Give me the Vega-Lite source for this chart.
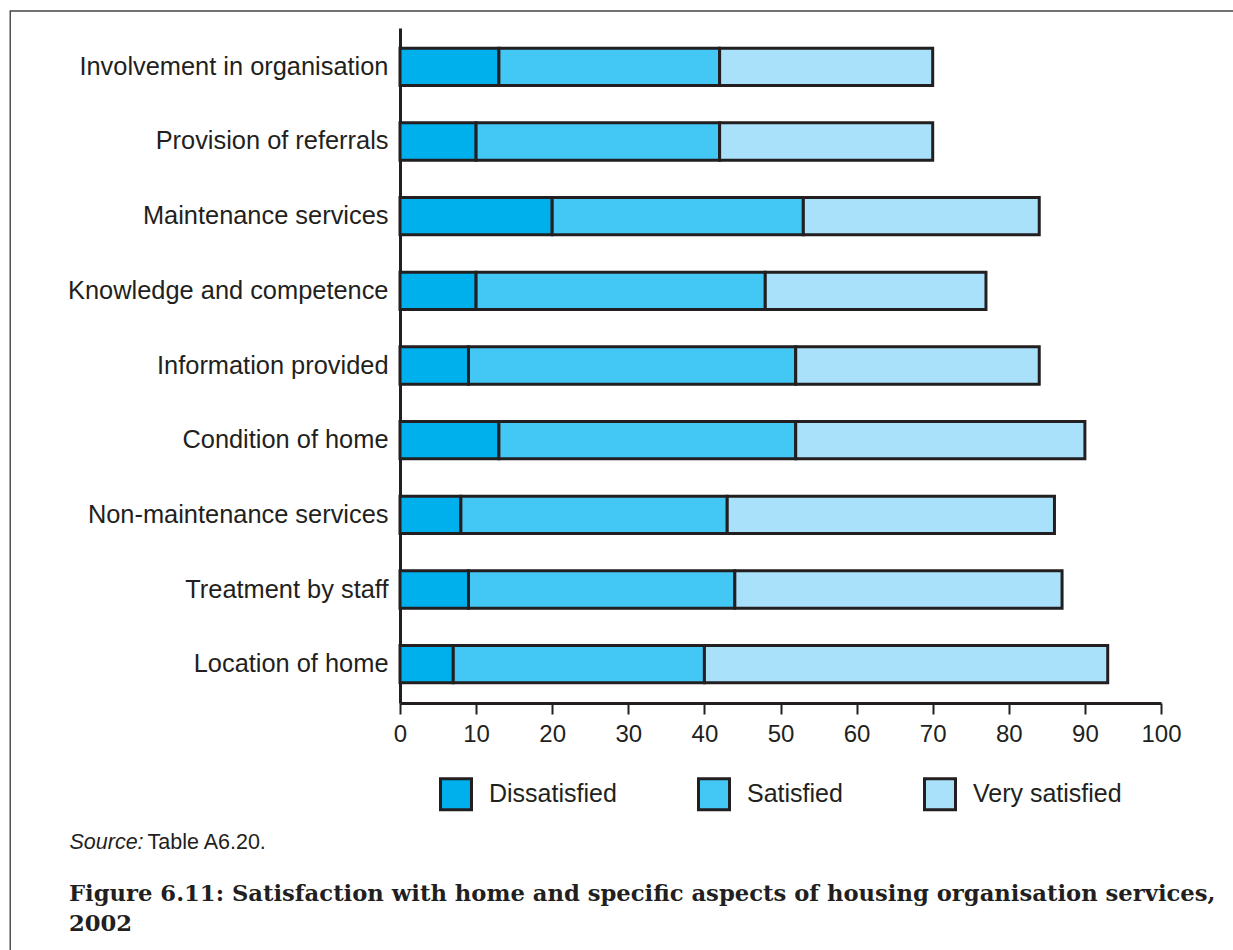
{
  "$schema": "https://vega.github.io/schema/vega-lite/v6.json",
  "width": 761,
  "height": 675,
  "autosize": {"type": "none"},
  "padding": {"left": 400, "top": 28, "right": 72, "bottom": 247},
  "background": "white",
  "config": {
    "view": {"stroke": null},
    "font": "Liberation Sans"
  },
  "title": {
    "text": ["Figure 6.11: Satisfaction with home and specific aspects of housing organisation services,", "2002"],
    "orient": "bottom",
    "anchor": "start",
    "frame": "group",
    "dx": -331,
    "offset": -70,
    "font": "DejaVu Serif",
    "fontSize": 22.7,
    "fontWeight": "bold",
    "lineHeight": 30,
    "color": "#231f20"
  },
  "data": {
    "values": [
      {"aspect": "Involvement in organisation", "level": "Dissatisfied", "rank": 1, "value": 13},
      {"aspect": "Involvement in organisation", "level": "Satisfied", "rank": 2, "value": 29},
      {"aspect": "Involvement in organisation", "level": "Very satisfied", "rank": 3, "value": 28},
      {"aspect": "Provision of referrals", "level": "Dissatisfied", "rank": 1, "value": 10},
      {"aspect": "Provision of referrals", "level": "Satisfied", "rank": 2, "value": 32},
      {"aspect": "Provision of referrals", "level": "Very satisfied", "rank": 3, "value": 28},
      {"aspect": "Maintenance services", "level": "Dissatisfied", "rank": 1, "value": 20},
      {"aspect": "Maintenance services", "level": "Satisfied", "rank": 2, "value": 33},
      {"aspect": "Maintenance services", "level": "Very satisfied", "rank": 3, "value": 31},
      {"aspect": "Knowledge and competence", "level": "Dissatisfied", "rank": 1, "value": 10},
      {"aspect": "Knowledge and competence", "level": "Satisfied", "rank": 2, "value": 38},
      {"aspect": "Knowledge and competence", "level": "Very satisfied", "rank": 3, "value": 29},
      {"aspect": "Information provided", "level": "Dissatisfied", "rank": 1, "value": 9},
      {"aspect": "Information provided", "level": "Satisfied", "rank": 2, "value": 43},
      {"aspect": "Information provided", "level": "Very satisfied", "rank": 3, "value": 32},
      {"aspect": "Condition of home", "level": "Dissatisfied", "rank": 1, "value": 13},
      {"aspect": "Condition of home", "level": "Satisfied", "rank": 2, "value": 39},
      {"aspect": "Condition of home", "level": "Very satisfied", "rank": 3, "value": 38},
      {"aspect": "Non-maintenance services", "level": "Dissatisfied", "rank": 1, "value": 8},
      {"aspect": "Non-maintenance services", "level": "Satisfied", "rank": 2, "value": 35},
      {"aspect": "Non-maintenance services", "level": "Very satisfied", "rank": 3, "value": 43},
      {"aspect": "Treatment by staff", "level": "Dissatisfied", "rank": 1, "value": 9},
      {"aspect": "Treatment by staff", "level": "Satisfied", "rank": 2, "value": 35},
      {"aspect": "Treatment by staff", "level": "Very satisfied", "rank": 3, "value": 43},
      {"aspect": "Location of home", "level": "Dissatisfied", "rank": 1, "value": 7},
      {"aspect": "Location of home", "level": "Satisfied", "rank": 2, "value": 33},
      {"aspect": "Location of home", "level": "Very satisfied", "rank": 3, "value": 53}
    ]
  },
  "layer": [
    {
      "mark": {"type": "bar", "stroke": "#231f20", "strokeWidth": 3},
      "encoding": {
        "y": {
          "field": "aspect",
          "type": "nominal",
          "sort": null,
          "scale": {"paddingInner": 0.5, "paddingOuter": 0.27},
          "axis": {
            "orient": "left",
            "title": "Source:",
            "titleAngle": 0,
            "titleX": -331,
            "titleY": 820,
            "titleAlign": "left",
            "titleBaseline": "alphabetic",
            "titleFontStyle": "italic",
            "titleFontWeight": "normal",
            "titleFontSize": 21.5,
            "titleFont": "Liberation Sans",
            "titleColor": "#231f20",
            "ticks": false,
            "labelPadding": 12,
            "labelFontSize": 25.4,
            "labelFont": "Liberation Sans",
            "labelColor": "#231f20",
            "labelLimit": 500,
            "domainColor": "#231f20",
            "domainWidth": 3,
            "grid": false
          }
        },
        "x": {
          "field": "value",
          "type": "quantitative",
          "stack": "zero",
          "scale": {"domain": [0, 100], "nice": false},
          "axis": {
            "values": [0, 10, 20, 30, 40, 50, 60, 70, 80, 90, 100],
            "title": "Table A6.20.",
            "titleX": -253,
            "titleY": 145,
            "titleAlign": "left",
            "titleAnchor": "start",
            "titleBaseline": "alphabetic",
            "titleFontWeight": "normal",
            "titleFontSize": 21.5,
            "titleFont": "Liberation Sans",
            "titleColor": "#231f20",
            "grid": false,
            "domainColor": "#231f20",
            "domainWidth": 3,
            "tickColor": "#231f20",
            "tickWidth": 2,
            "tickSize": 11,
            "labelPadding": 8,
            "labelFontSize": 24,
            "labelFont": "Liberation Sans",
            "labelColor": "#231f20",
            "labelFlush": false
          }
        },
        "color": {
          "field": "level",
          "type": "nominal",
          "scale": {
            "domain": ["Dissatisfied", "Satisfied", "Very satisfied"],
            "range": ["#00b0ed", "#43c7f4", "#aae1fa"]
          },
          "legend": {
            "orient": "none",
            "legendX": 39,
            "legendY": 749,
            "direction": "horizontal",
            "title": null,
            "padding": 0,
            "symbolType": "square",
            "symbolSize": 961,
            "symbolStrokeWidth": 3,
            "symbolStrokeColor": "#231f20",
            "symbolOpacity": 1,
            "labelFontSize": 25,
            "labelFont": "Liberation Sans",
            "labelColor": "#231f20",
            "labelOffset": 16,
            "columnPadding": 75,
            "labelLimit": 400
          }
        },
        "order": {"field": "rank", "type": "quantitative"}
      }
    },
    {
      "data": {"values": [{"left": -51.22, "right": 112, "top": 1.0252, "bottom": -0.369}]},
      "mark": {"type": "rect", "filled": false, "stroke": "#444444", "strokeWidth": 1.4},
      "encoding": {
        "x": {"field": "left", "type": "quantitative"},
        "x2": {"field": "right"},
        "y": {"field": "top", "type": "quantitative", "scale": {"domain": [0, 1]}, "axis": null},
        "y2": {"field": "bottom"}
      }
    }
  ],
  "resolve": {"scale": {"y": "independent"}, "axis": {"y": "independent"}}
}
